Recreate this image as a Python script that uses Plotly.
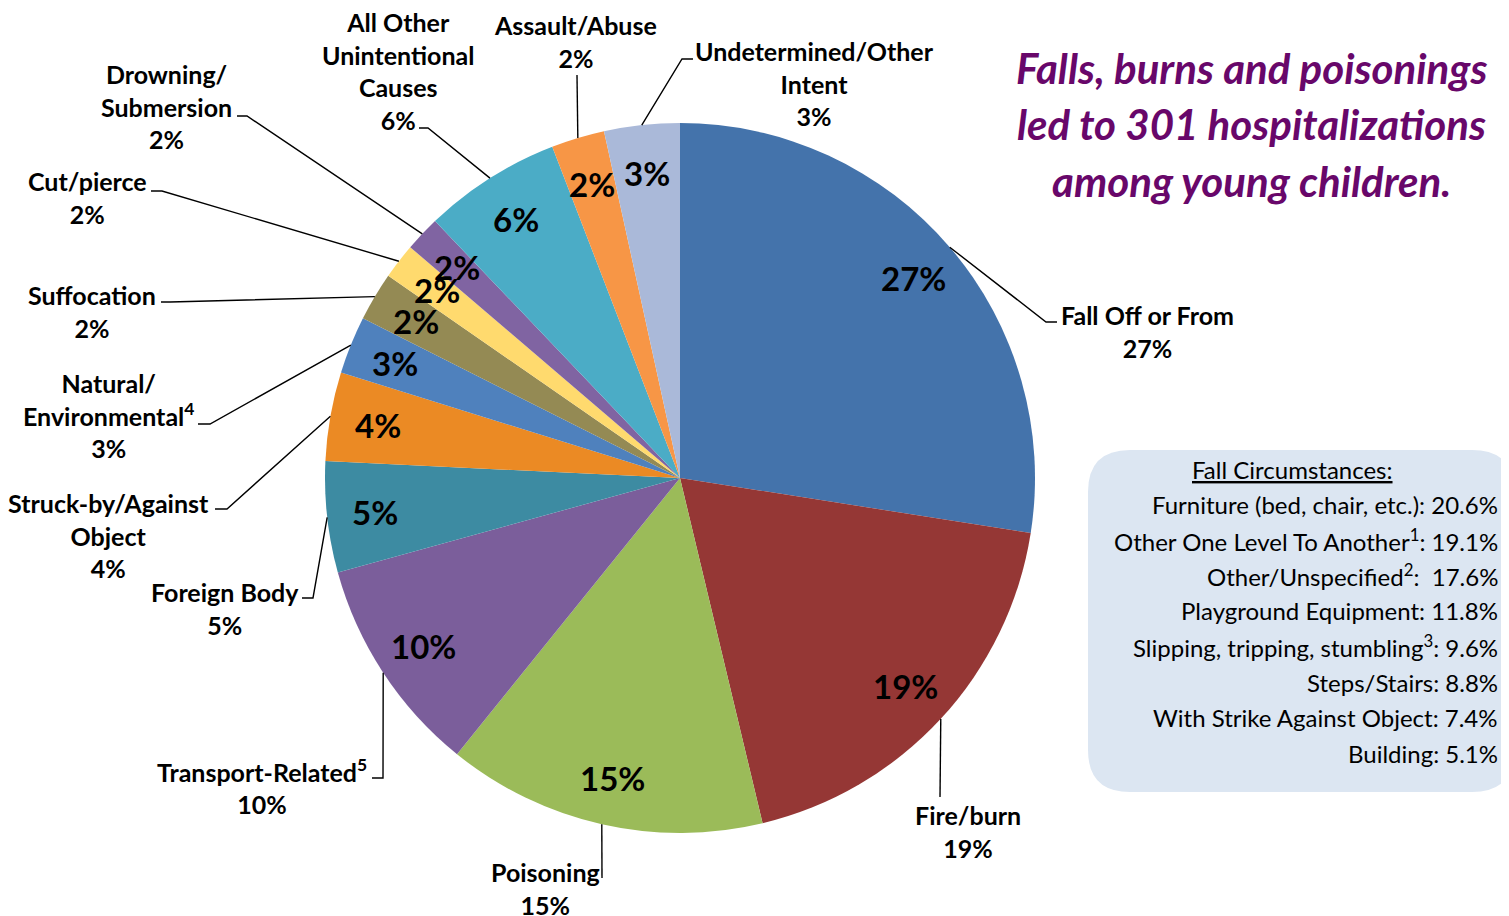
import numpy as np
import plotly.graph_objects as go

W, H = 1509, 916

# hospitalizations by cause (estimated counts, total ~495)
causes = ["Fall Off or From", "Fire/burn", "Poisoning", "Transport-Related", "Foreign Body",
          "Struck-by/Against Object", "Natural/Environmental", "Suffocation", "Cut/pierce",
          "Drowning/Submersion", "All Other Unintentional Causes", "Assault/Abuse",
          "Undetermined/Other Intent"]
counts = [136, 93, 72, 49, 25, 20, 13, 11, 8, 8, 31, 12, 17]
colors = ["#4473AB", "#953735", "#9BBB59", "#7B5E9B", "#3D8BA2", "#EB8A24", "#4F81BD",
          "#948A54", "#FFDA6E", "#8064A2", "#4BACC6", "#F79646", "#AAB9D9"]

# label text as printed next to the pie
label_text = ["Fall Off or From", "Fire/burn", "Poisoning", "Transport-Related<sup>5</sup>",
              "Foreign Body", "Struck-by/Against<br>Object", "Natural/<br>Environmental<sup>4</sup>",
              "Suffocation", "Cut/pierce", "Drowning/<br>Submersion",
              "All Other<br>Unintentional<br>Causes", "Assault/Abuse",
              "Undetermined/Other<br>Intent"]

fall_items = ["Furniture (bed, chair, etc.)", "Other One Level To Another<sup>1</sup>",
              "Other/Unspecified<sup>2</sup>", "Playground Equipment",
              "Slipping, tripping, stumbling<sup>3</sup>", "Steps/Stairs",
              "With Strike Against Object", "Building"]
fall_pct = [20.6, 19.1, 17.6, 11.8, 9.6, 8.8, 7.4, 5.1]

title_lines = ["Falls, burns and poisonings", "led to 301 hospitalizations",
               "among young children."]

# layout: pie centre / radius in pixels, label positions and leader elbows
CX, CY, R = 680, 478, 355
label_pos = [(1147, 331), (968, 831), (545, 888), (262, 786), (225, 608), (108, 535),
             (108, 416), (92, 311), (87, 198), (166, 107), (398, 71), (575, 41), (815, 84)]
elbows = [[(1046, 322), (1057, 322)], [(940, 797)], [(602, 878)], [(383, 778), (372, 778)],
          [(313, 598), (302, 598)], [(227, 509), (215, 509)], [(210, 424), (198, 424)],
          [(170, 302), (161, 302)], [(162, 191), (151, 191)], [(247, 116), (237, 116)],
          [(428, 128), (419, 128)], [(577, 75)], [(682, 59), (693, 59)]]

FONT = "Lato"
OFF = 8  # page body margin


def px(x):
    return (x - OFF) / W


def py(y):
    return 1 - (y - OFF) / H


fig = go.Figure(go.Pie(
    values=counts, labels=causes, sort=False, direction="clockwise", rotation=0,
    marker=dict(colors=colors, line=dict(width=0)),
    textinfo="none", hoverinfo="skip", showlegend=False,
    domain=dict(x=[px(CX - R), px(CX + R)], y=[py(CY + R), py(CY - R)]),
))

total = sum(counts)
ends = np.cumsum(counts) / total * 360
mids = ends - np.array(counts) / total * 180
pcts = [f"{round(c / total * 100)}%" for c in counts]

annotations = []
shapes = []
for i, a in enumerate(np.radians(mids)):
    # percent inside the slice
    r_in = 0.865 * R
    annotations.append(dict(
        x=px(CX + r_in * np.sin(a)), y=py(CY - r_in * np.cos(a)), xref="paper", yref="paper",
        text=pcts[i], showarrow=False, xanchor="center", yanchor="middle",
        font=dict(family=FONT, size=33, color="black", weight="bold")))
    # outside label
    lx, ly = label_pos[i]
    annotations.append(dict(
        x=px(lx), y=py(ly), xref="paper", yref="paper",
        text=label_text[i] + "<br>" + pcts[i], showarrow=False,
        xanchor="center", yanchor="middle", align="center",
        font=dict(family=FONT, size=25, color="black", weight="bold")))
    # leader line from slice edge
    pts = [(CX + R * np.sin(a), CY - R * np.cos(a))] + elbows[i]
    path = "M " + " L ".join(f"{px(x):.5f},{py(y):.5f}" for x, y in pts)
    shapes.append(dict(type="path", path=path, xref="paper", yref="paper",
                       line=dict(color="black", width=1.4), layer="above"))

# rounded box for fall circumstances
x0, x1, y0, y1, rr = 1088, 1514, 450, 792, 42
box = [(x0 + rr, y0), (x1 - rr, y0), "Q", (x1, y0), (x1, y0 + rr), (x1, y1 - rr), "Q", (x1, y1),
       (x1 - rr, y1), (x0 + rr, y1), "Q", (x0, y1), (x0, y1 - rr), (x0, y0 + rr), "Q", (x0, y0),
       (x0 + rr, y0)]
path = f"M {px(box[0][0]):.5f},{py(box[0][1]):.5f}"
k = 1
while k < len(box):
    if box[k] == "Q":
        (qx, qy), (ex, ey) = box[k + 1], box[k + 2]
        path += f" Q {px(qx):.5f},{py(qy):.5f} {px(ex):.5f},{py(ey):.5f}"
        k += 3
    else:
        path += f" L {px(box[k][0]):.5f},{py(box[k][1]):.5f}"
        k += 1
shapes.append(dict(type="path", path=path + " Z", xref="paper", yref="paper",
                   fillcolor="#DCE6F2", line=dict(width=0), layer="below"))

annotations.append(dict(
    x=px(1292), y=py(469), xref="paper", yref="paper", text="<u>Fall Circumstances:</u>",
    showarrow=False, xanchor="center", yanchor="middle",
    font=dict(family=FONT, size=24, color="black")))
for j, (name, v) in enumerate(zip(fall_items, fall_pct)):
    sep = ":  " if "Unspecified" in name else ": "
    annotations.append(dict(
        x=px(1500), y=py(504 + j * 35.6), xref="paper", yref="paper",
        text=f"{name}{sep}{v}%", showarrow=False, xanchor="right", yanchor="middle",
        font=dict(family=FONT, size=24, color="black")))

for j, line in enumerate(title_lines):
    annotations.append(dict(
        x=px(1251), y=py(68 + j * 56.5), xref="paper", yref="paper", text=line,
        showarrow=False, xanchor="center", yanchor="middle",
        font=dict(family=FONT, size=42, color="#68076A", weight="bold", style="italic")))

fig.update_layout(
    width=W, height=H, margin=dict(l=0, r=0, t=0, b=0),
    paper_bgcolor="white", plot_bgcolor="white",
    annotations=annotations, shapes=shapes,
)

fig.write_html("out.html")
